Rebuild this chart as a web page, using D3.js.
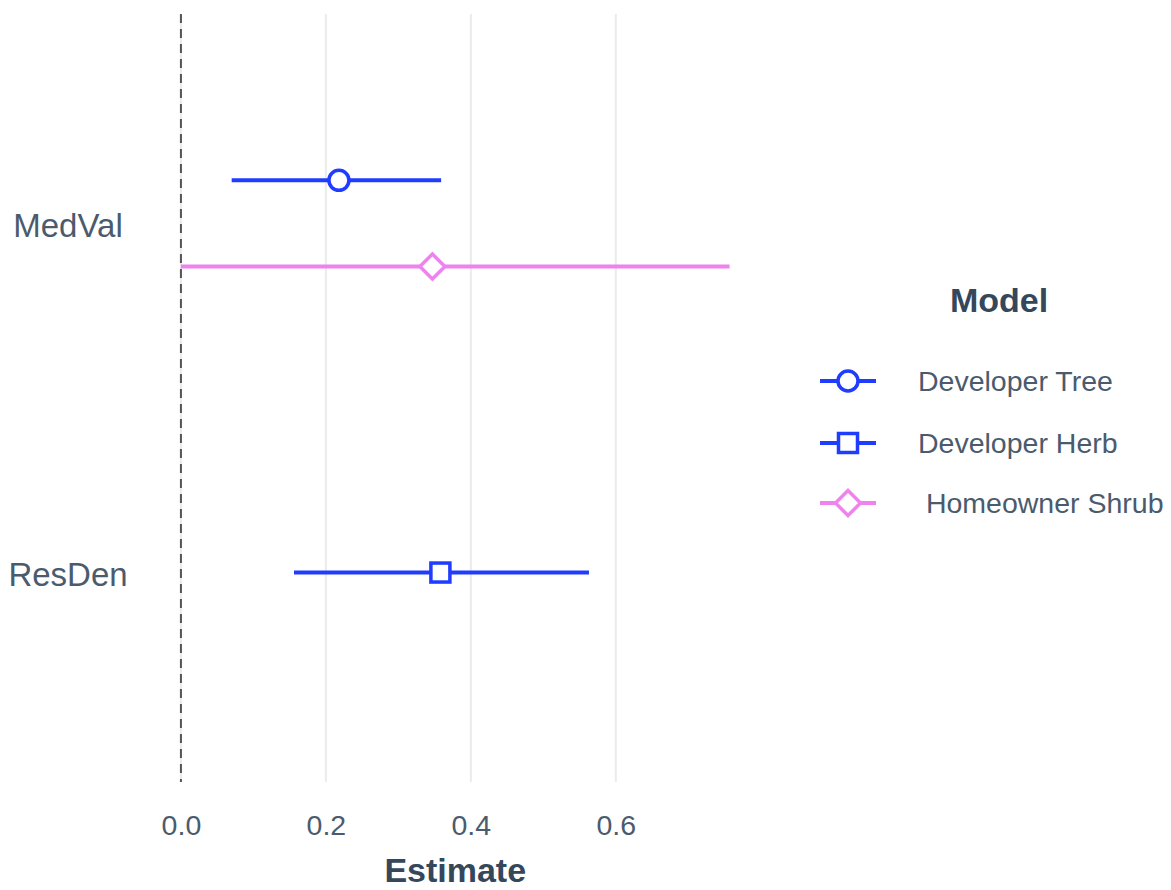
<!DOCTYPE html>
<html>
<head>
<meta charset="utf-8">
<script src="https://cdn.jsdelivr.net/npm/d3@7"></script>
<style>
  body { margin: 0; background: #fff; }
  text { font-family: "Liberation Sans", Helvetica, Arial, sans-serif; }
</style>
</head>
<body>
<div id="chart"></div>
<script>
    var width = 1171,
        height = 890;

    // data
    var terms = ["MedVal", "ResDen"];
    var models = ["Developer Tree", "Developer Herb", " Homeowner Shrub"];
    var modelTerm = ["MedVal", "ResDen", "MedVal"];
    var estimate = [0.218, 0.358, 0.347];
    var confLow = [0.070, 0.156, 0.000];
    var confHigh = [0.359, 0.563, 0.757];
    var xTicks = [0.0, 0.2, 0.4, 0.6];

    var colors = ["#1f3cff", "#1f3cff", "#ee82ee"],
        shapes = ["circle", "square", "diamond"];

    var panel = { left: 153.5, right: 757, top: 14, bottom: 782 };
    var textCol = "#4b5b6d", titleCol = "#34475b";

    var svg = d3.select("#chart").append("svg")
        .attr("width", width)
        .attr("height", height);

    // x scale with 5% expansion like ggplot
    var lo = d3.min(confLow), hi = d3.max(confHigh), pad = (hi - lo) * 0.05;
    var x = d3.scaleLinear()
        .domain([lo - pad, hi + pad])
        .range([panel.left, panel.right]);

    var y = d3.scalePoint()
        .domain(terms)
        .range([panel.top, panel.bottom])
        .padding(0.6);

    var dodge = y.step() * 0.247;

    var rows = models.map(function (m, i) {
        return { model: m, term: modelTerm[i], est: estimate[i], lo: confLow[i], hi: confHigh[i],
                 color: colors[i], shape: shapes[i] };
    });
    // dodge models inside each term
    terms.forEach(function (t) {
        var r = rows.filter(function (d) { return d.term == t; });
        r.forEach(function (d, k) {
            d.y = y(t) + (k - (r.length - 1) / 2) * dodge;
        });
    });

    // grid lines
    svg.append("g").selectAll("line")
        .data(xTicks)
        .enter().append("line")
        .attr("x1", function (d) { return x(d); })
        .attr("x2", function (d) { return x(d); })
        .attr("y1", panel.top)
        .attr("y2", panel.bottom)
        .style("stroke", "#ebebeb")
        .style("stroke-width", 2);

    // zero line
    svg.append("line")
        .attr("x1", x(0)).attr("x2", x(0))
        .attr("y1", panel.top).attr("y2", panel.bottom)
        .style("stroke", "#555")
        .style("stroke-width", 2)
        .style("stroke-dasharray", "9,6");

    // x axis tick labels
    var xAxis = d3.axisBottom(x).tickValues(xTicks).tickFormat(d3.format(".1f")).tickSize(0).tickPadding(0);
    var ax = svg.append("g")
        .attr("transform", "translate(0," + 808 + ")")
        .call(xAxis);
    ax.select(".domain").remove();
    ax.selectAll("text")
        .attr("dy", "0")
        .attr("y", 27)
        .style("font-size", "28.5px")
        .style("font-family", "Liberation Sans, Helvetica, Arial, sans-serif")
        .style("fill", textCol);

    // y axis labels
    var yAxis = d3.axisLeft(y).tickSize(0).tickPadding(0);
    var ay = svg.append("g")
        .attr("transform", "translate(68,0)")
        .call(yAxis);
    ay.select(".domain").remove();
    ay.selectAll("text")
        .attr("x", 0)
        .attr("dy", "0")
        .attr("y", 13)
        .attr("text-anchor", "middle")
        .style("font-size", "33px")
        .style("font-family", "Liberation Sans, Helvetica, Arial, sans-serif")
        .style("fill", textCol);

    svg.append("text")
        .attr("x", (panel.left + panel.right) / 2)
        .attr("y", 882)
        .attr("text-anchor", "middle")
        .style("font-size", "34px")
        .style("font-weight", "bold")
        .style("fill", titleCol)
        .text("Estimate");

    function drawShape(sel, shape, cx, cy, color) {
        if (shape == "circle") {
            sel.append("circle").attr("cx", cx).attr("cy", cy).attr("r", 10)
                .style("fill", "#fff").style("stroke", color).style("stroke-width", 3.5);
        } else if (shape == "square") {
            sel.append("rect").attr("x", cx - 9.5).attr("y", cy - 9.5).attr("width", 19).attr("height", 19)
                .style("fill", "#fff").style("stroke", color).style("stroke-width", 3.5);
        } else {
            var s = 12.5;
            sel.append("path")
                .attr("d", "M" + cx + "," + (cy - s) + "L" + (cx + s) + "," + cy + "L" + cx + "," + (cy + s) + "L" + (cx - s) + "," + cy + "Z")
                .style("fill", "#fff").style("stroke", color).style("stroke-width", 3.5);
        }
    }

    // whiskers and points
    var marks = svg.append("g");
    rows.forEach(function (d) {
        marks.append("line")
            .attr("x1", x(d.lo)).attr("x2", x(d.hi))
            .attr("y1", d.y).attr("y2", d.y)
            .style("stroke", d.color)
            .style("stroke-width", 4);
        drawShape(marks, d.shape, x(d.est), d.y, d.color);
    });

    // legend
    var legend = svg.append("g");
    legend.append("text")
        .attr("x", 999)
        .attr("y", 312)
        .attr("text-anchor", "middle")
        .style("font-size", "34px")
        .style("font-weight", "bold")
        .style("fill", titleCol)
        .text("Model");

    var legendY = [381, 443, 503];
    var order = [0, 1, 2];
    order.forEach(function (i, k) {
        var d = rows[i], ly = legendY[k];
        legend.append("line")
            .attr("x1", 820).attr("x2", 876)
            .attr("y1", ly).attr("y2", ly)
            .style("stroke", d.color)
            .style("stroke-width", 4);
        drawShape(legend, d.shape, 848, ly, d.color);
        legend.append("text")
            .attr("x", 918)
            .attr("y", ly + 10)
            .attr("xml:space", "preserve")
            .style("white-space", "pre")
            .style("font-size", "28.5px")
            .style("fill", textCol)
            .text(d.model);
    });
</script>
</body>
</html>
